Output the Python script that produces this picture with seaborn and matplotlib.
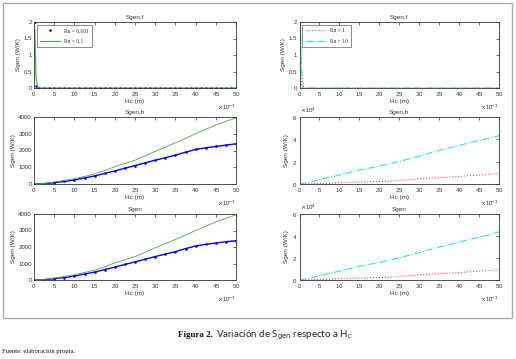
import numpy as np
import matplotlib
matplotlib.use("Agg")
import matplotlib.pyplot as plt
from matplotlib.ticker import ScalarFormatter
from matplotlib.patches import Rectangle
import seaborn as sns

# Hc values (mm) for the Sgen,f row (spike near zero, then flat at zero)
hc_f_mm = [0.2, 0.5, 1.0, 1.25, 2.5, 3.75, 5.0, 6.25, 7.5, 8.75, 10.0, 11.25,
           12.5, 13.75, 15.0, 16.25, 17.5, 18.75, 20.0, 21.25, 22.5, 23.75,
           25.0, 26.25, 27.5, 28.75, 30.0, 31.25, 32.5, 33.75, 35.0, 36.25,
           37.5, 38.75, 40.0, 41.25, 42.5, 43.75, 45.0, 46.25, 47.5, 48.75, 50.0]
sf_rn0001 = [2.0, 0.05, 0.01] + [0.0] * 40
sf_rn01 = [1.8, 0.3, 0.02] + [0.0] * 40
sf_rn1 = [1.9, 0.05, 0.0] + [0.0] * 40
sf_rn10 = [2.0, 0.6, 0.02] + [0.0] * 40

# Hc values (mm) for Sgen,h and Sgen rows
hc_mm = [0, 2.5, 5, 7.5, 10, 12.5, 15, 17.5, 20, 22.5, 25, 27.5, 30, 32.5, 35,
         37.5, 40, 42.5, 45, 47.5, 50]
sh_rn0001 = [0, 20, 80, 150, 240, 360, 480, 630, 780, 940, 1100, 1260, 1420,
             1570, 1720, 1900, 2060, 2160, 2240, 2320, 2400]
sh_rn01 = [0, 30, 120, 210, 320, 450, 600, 800, 1040, 1220, 1420, 1680, 1950,
           2200, 2460, 2720, 3000, 3260, 3520, 3740, 3950]
sh_rn1 = [200, 300, 500, 600, 1300, 1500, 1800, 2000, 2200, 2400, 3000, 4000,
          4800, 5200, 5700, 6200, 6800, 7400, 8000, 8600, 9500]
sh_rn10 = [0, 1500, 4000, 6000, 8000, 10300, 12500, 14200, 16000, 18000, 20200,
           22500, 25000, 27500, 30000, 32200, 34500, 36800, 39000, 41000, 43200]

# total Sgen (Sgen,f is negligible away from the origin)
s_rn0001 = [0, 20, 80, 150, 240, 360, 480, 630, 780, 940, 1100, 1260, 1420,
            1570, 1720, 1900, 2060, 2160, 2240, 2320, 2380]
s_rn01 = [0, 30, 120, 210, 320, 450, 600, 800, 1040, 1220, 1420, 1680, 1950,
          2200, 2460, 2720, 3000, 3260, 3520, 3740, 3950]
s_rn1 = [200, 300, 500, 600, 1300, 1500, 1800, 2000, 2200, 2400, 3000, 4000,
         4800, 5200, 5700, 6200, 6800, 7400, 8000, 8600, 9500]
s_rn10 = [0, 1500, 4000, 6000, 8000, 10300, 12500, 14200, 16000, 18000, 20200,
          22500, 25000, 27500, 30000, 32200, 34500, 36800, 39000, 41000, 43800]

titles = ["Sgen,f", "Sgen,h", "Sgen"]

sns.set_theme(style="white")
plt.rcParams['font.family'] = ['Liberation Sans', 'DejaVu Sans']
plt.rcParams.update({
    'xtick.direction': 'in', 'ytick.direction': 'in',
    'xtick.top': True, 'ytick.right': True,
    'xtick.major.size': 2, 'ytick.major.size': 2,
    'xtick.major.width': 0.5, 'ytick.major.width': 0.5,
    'xtick.major.pad': 1.5, 'ytick.major.pad': 1.5,
    'xtick.labelsize': 4.4, 'ytick.labelsize': 4.4,
    'axes.linewidth': 0.6, 'axes.edgecolor': '#333333',
    'xtick.color': '#333333', 'ytick.color': '#333333',
    'text.color': '#333333', 'axes.labelcolor': '#333333',
})

blue = '#0000ff'
green = '#4aa84a'
red = '#ff4444'
cyan = '#33dddd'

W, H = 516, 359
fig = plt.figure(figsize=(W / 100, H / 100), dpi=100)
fig.patches.append(Rectangle((3 / W, 1 - 318 / H), 509 / W, 315 / H,
                             transform=fig.transFigure, fill=False,
                             edgecolor='#aaaaaa', linewidth=1.0))

lefts = [34 / W, 299.5 / W]
widths = [202 / W, 199.5 / W]
rows = [(22, 88), (117, 184), (214, 280)]

axes = []
for r, (t, b) in enumerate(rows):
    row = []
    for c in range(2):
        ax = fig.add_axes([lefts[c], 1 - b / H, widths[c], (b - t) / H])
        row.append(ax)
    axes.append(row)

m = [v / 1000 for v in hc_f_mm]
h = [v / 1000 for v in hc_mm]

def blue_dots(ax, x, y, label=None, line=False):
    sns.lineplot(x=x, y=y, ax=ax, color=blue, marker='.', markersize=2.2,
                 markeredgecolor=blue, linestyle='-' if line else 'none',
                 linewidth=1.0, label=label)

# row 0: Sgen,f
blue_dots(axes[0][0], m, sf_rn0001, label='Rn = 0,001')
sns.lineplot(x=m, y=sf_rn01, ax=axes[0][0], color=green, linewidth=0.8, label='Rn = 0,1')
sns.lineplot(x=m, y=sf_rn1, ax=axes[0][1], color=red, linestyle=':', linewidth=0.8, label='Rn = 1')
sns.lineplot(x=m, y=sf_rn10, ax=axes[0][1], color=cyan, linestyle='-.', linewidth=0.8, label='Rn = 10')

# row 1: Sgen,h
blue_dots(axes[1][0], h, sh_rn0001, line=True)
sns.lineplot(x=h, y=sh_rn01, ax=axes[1][0], color=green, linewidth=0.6)
sns.lineplot(x=h, y=sh_rn1, ax=axes[1][1], color=red, linestyle=':', linewidth=0.8)
sns.lineplot(x=h, y=sh_rn10, ax=axes[1][1], color=cyan, linestyle='-.', linewidth=0.8)

# row 2: Sgen
blue_dots(axes[2][0], h, s_rn0001, line=True)
sns.lineplot(x=h, y=s_rn01, ax=axes[2][0], color=green, linewidth=0.6)
sns.lineplot(x=h, y=s_rn1, ax=axes[2][1], color=red, linestyle=':', linewidth=0.8)
sns.lineplot(x=h, y=s_rn10, ax=axes[2][1], color=cyan, linestyle='-.', linewidth=0.8)

for r in range(3):
    for c in range(2):
        ax = axes[r][c]
        ax.set_xlim(0, 0.05)
        ax.set_xticks(np.arange(0, 0.0501, 0.005))
        xf = ScalarFormatter(useMathText=True)
        xf.set_powerlimits((-3, -3))
        ax.xaxis.set_major_formatter(xf)
        ax.xaxis.get_offset_text().set_fontsize(4.4)
        ax.set_title(titles[r], fontsize=4.6, pad=2)
        ax.set_xlabel('Hc (m)', fontsize=4.6, labelpad=1)
        ax.set_ylabel('Sgen (W/K)', fontsize=4.6, labelpad=2)
        if r == 0:
            ax.set_ylim(0, 2)
            ax.set_yticks([0, 0.5, 1, 1.5, 2])
            ax.set_yticklabels(['0', '0.5', '1', '1.5', '2'])
            leg = ax.legend(loc='upper left', frameon=True,
                            fancybox=False, edgecolor='#333333',
                            borderpad=0.6, handlelength=3.5, labelspacing=1.0,
                            prop={'family': 'Liberation Serif', 'size': 4})
            leg.get_frame().set_linewidth(0.5)
        elif c == 0:
            ax.set_ylim(0, 4000)
            ax.set_yticks([0, 1000, 2000, 3000, 4000])
        else:
            ax.set_ylim(0, 60000)
            ax.set_yticks([0, 20000, 40000, 60000])
            yf = ScalarFormatter(useMathText=True)
            yf.set_powerlimits((4, 4))
            ax.yaxis.set_major_formatter(yf)
            ax.yaxis.get_offset_text().set_fontsize(4.4)

# caption
fig.text(178 / W, 1 - 335 / H, 'Figura 2.', ha='left', va='center',
         fontsize=6.5, family='Liberation Serif', weight='bold', color='#111111')
fig.text(216 / W, 1 - 335 / H,
         r'Variación de S$_{\rm gen}$ respecto a H$_{\rm c}$',
         ha='left', va='center', fontsize=7.0, family='Lato', color='#222222')
fig.text(2 / W, 1 - 352 / H, 'Fuente: elaboración propia.', ha='left', va='center',
         fontsize=4.8, family='Liberation Serif', color='#111111')

fig.savefig('out.png', dpi=100, facecolor='white')
